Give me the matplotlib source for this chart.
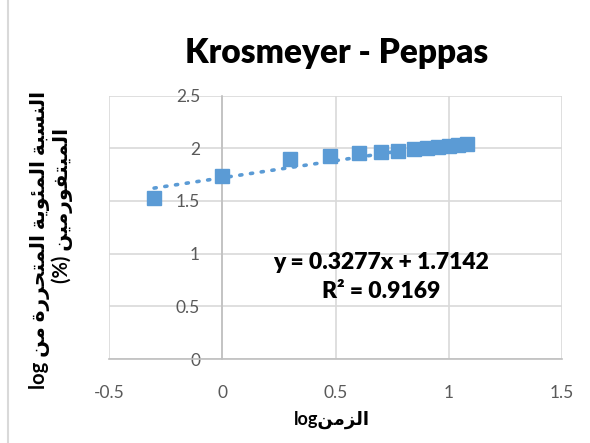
import numpy as np
import matplotlib
matplotlib.use('Agg')
import matplotlib.pyplot as plt

# log(time) vs log(% metformin released)
log_t = [-0.301, 0.0, 0.301, 0.477, 0.602, 0.699, 0.778, 0.845, 0.903, 0.954, 1.0, 1.041, 1.079]
log_rel = [1.527, 1.737, 1.896, 1.927, 1.953, 1.962, 1.978, 1.99, 2.0, 2.01, 2.02, 2.03, 2.04]

title = 'Krosmeyer - Peppas'
eq_text = 'y = 0.3277x + 1.7142'
r2_text = 'R² = 0.9169'
xticks = [-0.5, 0, 0.5, 1, 1.5]
xtick_labels = ['-0.5', '0', '0.5', '1', '1.5']
yticks = [0, 0.5, 1, 1.5, 2, 2.5]
ytick_labels = ['0', '0.5', '1', '1.5', '2', '2.5']
ylabel_ar1 = 'النسبة المئوية المتحررة من'
ylabel_ar2 = 'الميتفورمين'
xlabel_ar = 'الزمن'

# matplotlib does no Arabic shaping, so map letters to presentation forms
# (isolated, final, initial, medial); None means the letter only joins to the right
FORMS = {
    'ا': (0xFE8D, 0xFE8E, None, None),
    'ب': (0xFE8F, 0xFE90, 0xFE91, 0xFE92),
    'ة': (0xFE93, 0xFE94, None, None),
    'ت': (0xFE95, 0xFE96, 0xFE97, 0xFE98),
    'ح': (0xFEA1, 0xFEA2, 0xFEA3, 0xFEA4),
    'ر': (0xFEAD, 0xFEAE, None, None),
    'ز': (0xFEAF, 0xFEB0, None, None),
    'س': (0xFEB1, 0xFEB2, 0xFEB3, 0xFEB4),
    'ف': (0xFED1, 0xFED2, 0xFED3, 0xFED4),
    'ل': (0xFEDD, 0xFEDE, 0xFEDF, 0xFEE0),
    'م': (0xFEE1, 0xFEE2, 0xFEE3, 0xFEE4),
    'ن': (0xFEE5, 0xFEE6, 0xFEE7, 0xFEE8),
    'و': (0xFEED, 0xFEEE, None, None),
    'ي': (0xFEF1, 0xFEF2, 0xFEF3, 0xFEF4),
    'ئ': (0xFE89, 0xFE8A, 0xFE8B, 0xFE8C),
}


def shape_ar(text):
    """Return Arabic text shaped and in visual (left-to-right) order."""
    out = []
    for i, ch in enumerate(text):
        if ch not in FORMS:
            out.append(ch)
            continue
        f = FORMS[ch]
        prev = text[i - 1] if i > 0 else ''
        nxt = text[i + 1] if i + 1 < len(text) else ''
        joins_prev = prev in FORMS and FORMS[prev][2] is not None
        joins_next = nxt in FORMS and f[2] is not None
        if joins_prev and joins_next:
            code = f[3]
        elif joins_prev:
            code = f[1]
        elif joins_next:
            code = f[2]
        else:
            code = f[0]
        out.append(chr(code))
    return ''.join(reversed(out))


fonts = ['Lato', 'DejaVu Sans']
blue = '#5B9BD5'
grid_col = '#D9D9D9'
text_col = '#595959'

fig = plt.figure(figsize=(5.9, 4.43), dpi=100)
ax = fig.add_axes([109 / 590, 1 - 359 / 443, 453 / 590, 263.5 / 443])

ax.set_xlim(-0.5, 1.5)
ax.set_ylim(0, 2.5)
ax.set_xticks(xticks)
ax.set_xticklabels(xtick_labels)
ax.set_yticks(yticks)
ax.set_yticklabels(ytick_labels)
ax.grid(True, color=grid_col, linewidth=1.2)
ax.set_axisbelow(True)

for s in ['top', 'right']:
    ax.spines[s].set_visible(False)
ax.spines['left'].set_position(('data', 0))
ax.spines['left'].set_color('#BFBFBF')
ax.spines['bottom'].set_color('#BFBFBF')
ax.spines['left'].set_linewidth(1.2)
ax.spines['bottom'].set_linewidth(1.2)
ax.tick_params(length=0, labelsize=12.5, labelcolor=text_col)
ax.tick_params(axis='x', pad=19)
ax.tick_params(axis='y', pad=16)
for lab in ax.get_xticklabels() + ax.get_yticklabels():
    lab.set_family(fonts)

# linear trendline through the log-log data
fit = np.polyfit(log_t, log_rel, 1)
xs = np.array([min(log_t), max(log_t)])
ax.plot(xs, np.polyval(fit, xs), linestyle=(0, (0.6, 2.4)), color=blue,
        linewidth=2.6, dash_capstyle='round', zorder=2)
ax.plot(log_t, log_rel, 's', color=blue, markersize=10.5, zorder=3)

ax.text(0.70, 0.92, eq_text, ha='center', va='center', fontsize=16.5,
        fontweight='heavy', family=fonts)
ax.text(0.70, 0.636, r2_text, ha='center', va='center', fontsize=16.5,
        fontweight='heavy', family=fonts)

fig.text(337 / 590, 1 - 53 / 443, title, ha='center', va='center',
         fontsize=24, fontweight='heavy', family=fonts)

fig.text(332 / 590, 1 - 420 / 443, 'log' + shape_ar(xlabel_ar), ha='center',
         va='center', fontsize=13, fontweight='bold', family=fonts)
fig.text(40 / 590, 1 - 240 / 443, 'log ' + shape_ar(ylabel_ar1), ha='center',
         va='center', rotation=90, fontsize=14.5, fontweight='bold', family=fonts)
fig.text(62 / 590, 1 - 205 / 443, '(%) ' + shape_ar(ylabel_ar2), ha='center',
         va='center', rotation=90, fontsize=14.5, fontweight='bold', family=fonts)

# chart area border
fig.add_artist(plt.Line2D([7.5 / 590, 7.5 / 590], [0, 1], color=grid_col,
                          linewidth=1.5))

fig.savefig('out.png', dpi=100)
